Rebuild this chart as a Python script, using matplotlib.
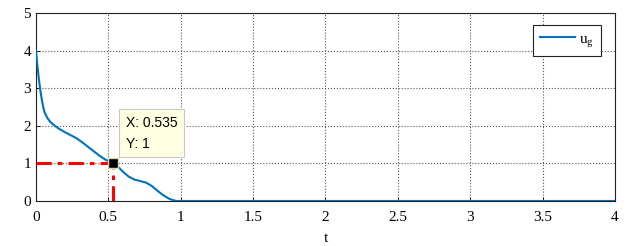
import matplotlib
matplotlib.use("Agg")
import matplotlib.pyplot as plt

# data
t = [0.0, 0.01, 0.02, 0.03, 0.04, 0.05, 0.06, 0.08, 0.10, 0.13, 0.16, 0.20, 0.24, 0.28,
     0.32, 0.36, 0.40, 0.44, 0.48, 0.535, 0.57, 0.60, 0.64, 0.68, 0.72, 0.76, 0.80,
     0.84, 0.88, 0.92, 0.95, 0.97, 1.0, 1.5, 2.0, 2.5, 3.0, 3.5, 4.0]
ug = [4.0, 3.6, 3.25, 2.95, 2.7, 2.5, 2.35, 2.2, 2.1, 2.0, 1.92, 1.83, 1.75, 1.67,
      1.56, 1.44, 1.32, 1.2, 1.1, 1.0, 0.9, 0.78, 0.65, 0.57, 0.53, 0.49, 0.4,
      0.27, 0.15, 0.06, 0.02, 0.0, 0.0, 0.0, 0.0, 0.0, 0.0, 0.0, 0.0]
tip_x = 0.535
tip_y = 1
xticks = [0, 0.5, 1, 1.5, 2, 2.5, 3, 3.5, 4]
xticklabels = ["0", "0.5", "1", "1.5", "2", "2.5", "3", "3.5", "4"]
yticks = [0, 1, 2, 3, 4, 5]

plt.rcParams['font.family'] = ['Liberation Serif', 'DejaVu Serif']
plt.rcParams['mathtext.fontset'] = 'custom'
plt.rcParams['mathtext.rm'] = 'Liberation Serif'
fig = plt.figure(figsize=(6.31, 2.46), dpi=100)
ax = fig.add_axes([0.057, 0.183, 0.9175, 0.764])

ax.plot(t, ug, color='#0072BD', lw=1.5, label=r'$\mathregular{u_g}$', zorder=3)
ax.plot([0, tip_x], [tip_y, tip_y], color='red', lw=2.2, ls=(0, (5, 2, 1.5, 2)), zorder=4)
ax.plot([tip_x, tip_x], [0, tip_y], color='red', lw=2.2, ls=(0, (5, 2, 1.5, 2)), zorder=4)
ax.plot([tip_x], [tip_y], marker='s', ms=7, mfc='black', mec='#d8d8a0', mew=1, zorder=5)

ax.text(0.62, 1.8, "X: 0.535\nY: 1", fontsize=10, family='Liberation Sans',
        ha='left', va='center', linespacing=1.65, zorder=6,
        bbox=dict(boxstyle='square,pad=0.45', fc='#FFFFE1', ec='#c8c8c8', lw=0.8))

ax.set_xlim(0, 4)
ax.set_ylim(0, 5)
ax.set_xticks(xticks)
ax.set_xticklabels(xticklabels)
ax.set_yticks(yticks)
ax.tick_params(direction='in', labelsize=11, length=3, width=0.6, top=False, right=False)
ax.tick_params(axis='x', pad=7)
ax.grid(True, ls=':', color='#555555', lw=0.8)
for s in ax.spines.values():
    s.set_linewidth(0.8)
    s.set_color('#222222')
ax.set_xlabel('t', fontsize=11, labelpad=6)

leg = ax.legend(loc='upper right', bbox_to_anchor=(0.976, 0.936), borderaxespad=0,
                fontsize=11, handlelength=2.3, handletextpad=0.3, borderpad=0.45,
                fancybox=False, framealpha=1, edgecolor='#222222')
leg.get_frame().set_linewidth(0.8)

fig.savefig('out.png', dpi=100)
